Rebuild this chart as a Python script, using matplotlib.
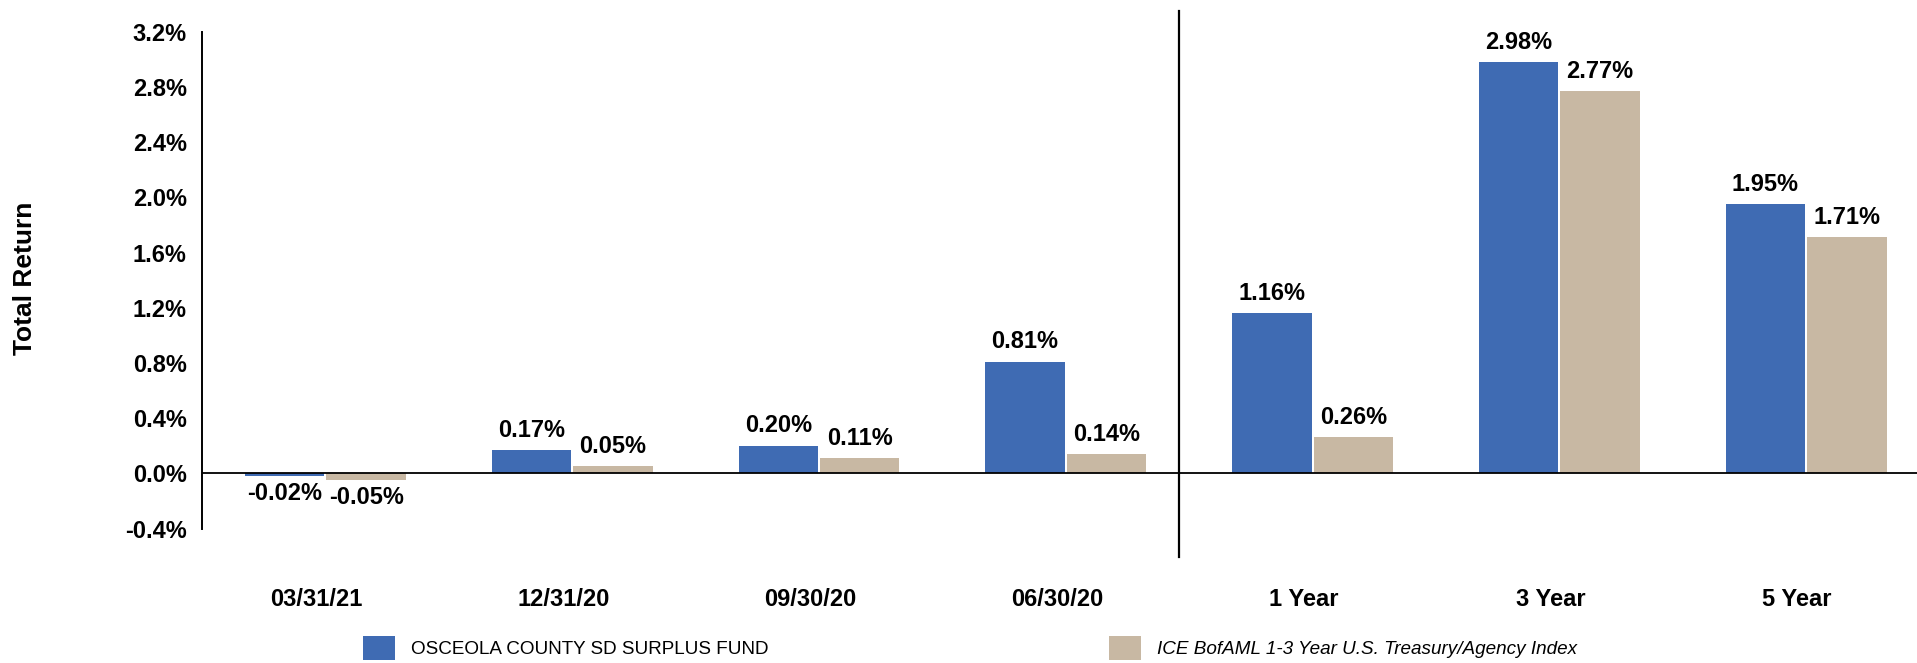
import matplotlib
matplotlib.use("Agg")
import matplotlib.pyplot as plt
from matplotlib.patches import Patch
from matplotlib.transforms import ScaledTranslation
import numpy as np

categories = ["03/31/21", "12/31/20", "09/30/20", "06/30/20", "1 Year", "3 Year", "5 Year"]
fund_values = [-0.02, 0.17, 0.20, 0.81, 1.16, 2.98, 1.95]
bench_values = [-0.05, 0.05, 0.11, 0.14, 0.26, 2.77, 1.71]
series_names = ["OSCEOLA COUNTY SD SURPLUS FUND",
                "ICE BofAML 1-3 Year U.S. Treasury/Agency Index"]
y_ticks = [-0.4, 0.0, 0.4, 0.8, 1.2, 1.6, 2.0, 2.4, 2.8, 3.2]

BLUE = "#3F6BB3"
TAN = "#C8B8A3"
FS = 17

plt.rcParams['font.family'] = ['Liberation Sans', 'DejaVu Sans']

W, H = 1917, 663
fig = plt.figure(figsize=(W / 100, H / 100), dpi=100)
left = 202 / W
bottom = 1 - 528.5 / H
top = 1 - 31.7 / H
ax = fig.add_axes([left, bottom, 1 - left, top - bottom])

x = np.arange(len(categories))
bw = 0.322
off = 0.165
b1 = ax.bar(x - off, fund_values, bw, color=BLUE, zorder=3)
b2 = ax.bar(x + off, bench_values, bw, color=TAN, zorder=3)

for bars, vals in ((b1, fund_values), (b2, bench_values)):
    for rect, v in zip(bars, vals):
        cx = rect.get_x() + rect.get_width() / 2
        if v >= 0:
            ax.annotate(f"{v:.2f}%", (cx, v), xytext=(0, 6), textcoords="offset points",
                        ha="center", va="bottom", fontsize=FS, fontweight="bold")
        else:
            ax.annotate(f"{v:.2f}%", (cx, v), xytext=(0, -4), textcoords="offset points",
                        ha="center", va="top", fontsize=FS, fontweight="bold")

ax.set_ylim(-0.4, 3.2)
ax.set_xlim(-0.5, 6.449)
ax.set_yticks(y_ticks)
ax.set_yticklabels([f"{t:.1f}%" for t in y_ticks], fontsize=FS, fontweight="bold")
ax.set_xticks(x)
ax.set_xticklabels(categories, fontsize=FS, fontweight="bold")
ax.tick_params(axis="y", length=0, pad=11)
ax.tick_params(axis="x", length=0, pad=43)
shift = ScaledTranslation(-9 / 100, 0, fig.dpi_scale_trans)
for lbl in ax.get_xticklabels():
    lbl.set_transform(lbl.get_transform() + shift)

for s in ("top", "right", "bottom"):
    ax.spines[s].set_visible(False)
ax.spines["left"].set_linewidth(1.4)
ax.spines["left"].set_color("black")

ax.axhline(0, color="black", lw=1.3, zorder=4)
ax.axvline(3.46, ymin=-0.057, ymax=1.0425, color="black", lw=1.6, clip_on=False, zorder=4)

fig.text(25 / W, 1 - 278 / H, "Total Return", rotation=90, ha="center", va="center",
         fontsize=19, fontweight="bold")

handles = [Patch(facecolor=BLUE), Patch(facecolor=TAN)]
leg = fig.legend(handles, series_names, ncol=2, loc="center left",
                 bbox_to_anchor=(363 / W, 1 - 648 / H), frameon=False,
                 borderpad=0, borderaxespad=0, fontsize=13.6,
                 handlelength=1.7, handleheight=1.6, handletextpad=0.85,
                 columnspacing=18.0)
leg.get_texts()[1].set_fontstyle("italic")

fig.savefig("out.png", dpi=100)
